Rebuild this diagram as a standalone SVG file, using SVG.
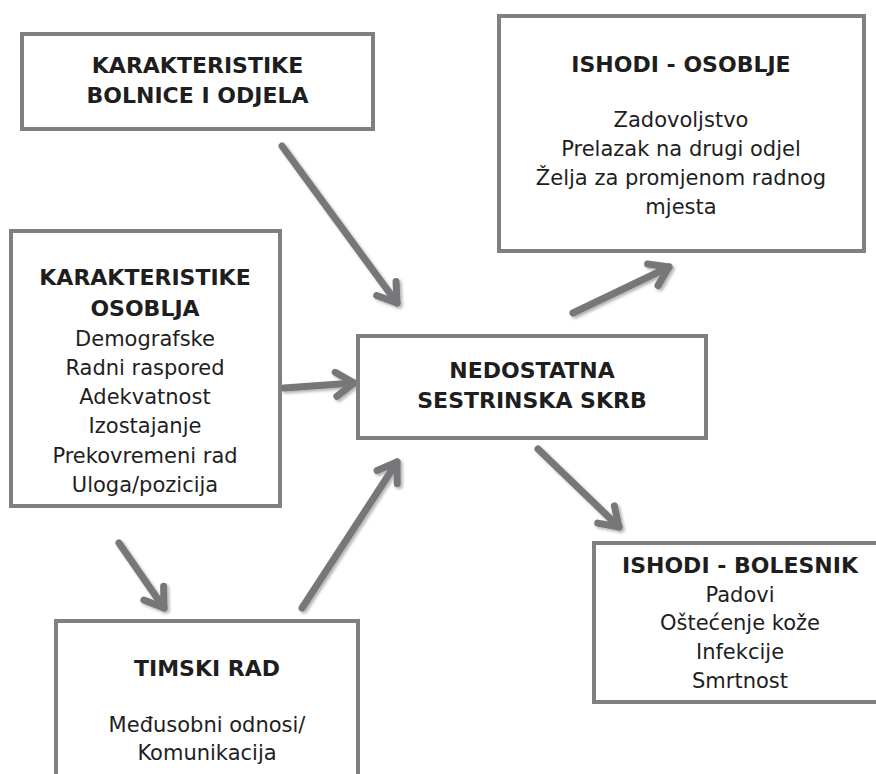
<svg xmlns="http://www.w3.org/2000/svg" width="876" height="774" viewBox="0 0 876 774">
<defs>
<style>
.box{fill:#fff;stroke:#808080;stroke-width:4}
.t{font-family:"DejaVu Sans",Verdana,sans-serif;fill:#1e1e1e;text-anchor:middle}
.b{font-weight:bold;font-size:22px}
.r{font-size:21px}
.arr{fill:none;stroke:#77777a;stroke-width:7;stroke-linecap:round;stroke-linejoin:round}
</style>
<filter id="sh" x="-20%" y="-20%" width="140%" height="140%">
<feDropShadow dx="2" dy="2" stdDeviation="1.5" flood-color="#000" flood-opacity="0.3"/>
</filter>
<marker id="ah" markerUnits="userSpaceOnUse" viewBox="-30 -20 40 40" refX="0" refY="0" markerWidth="40" markerHeight="40" orient="auto" overflow="visible">
<path d="M-18,-12 L0,0 L-18,12" fill="none" stroke="#77777a" stroke-width="7" stroke-linecap="round" stroke-linejoin="round"/>
</marker>
</defs>
<rect width="876" height="774" fill="#fff"/>
<g id="connectors" filter="url(#sh)">
<line class="arr" x1="282" y1="146" x2="397" y2="303" marker-end="url(#ah)"/>
<line class="arr" x1="284" y1="388" x2="354" y2="383" marker-end="url(#ah)"/>
<line class="arr" x1="302" y1="608" x2="397" y2="462" marker-end="url(#ah)"/>
<line class="arr" x1="119" y1="543" x2="164" y2="608" marker-end="url(#ah)"/>
<line class="arr" x1="538" y1="449" x2="619" y2="527" marker-end="url(#ah)"/>
<line class="arr" x1="573" y1="313" x2="669" y2="267" marker-end="url(#ah)"/>
</g>
<g id="bolnica">
<rect class="box" x="22" y="34" width="351" height="95"/>
<text class="t b" x="197.5" y="73">KARAKTERISTIKE</text>
<text class="t b" x="197.5" y="103">BOLNICE I ODJELA</text>
</g>
<g id="ishodi-osoblje">
<rect class="box" x="499" y="16" width="365" height="235"/>
<text class="t b" x="681" y="72">ISHODI - OSOBLJE</text>
<text class="t r" x="681" y="127">Zadovoljstvo</text>
<text class="t r" x="681" y="156">Prelazak na drugi odjel</text>
<text class="t r" x="681" y="185">Želja za promjenom radnog</text>
<text class="t r" x="681" y="214">mjesta</text>
</g>
<g id="osoblje">
<rect class="box" x="11" y="231" width="269" height="275"/>
<text class="t b" x="145" y="285">KARAKTERISTIKE</text>
<text class="t b" x="145" y="316">OSOBLJA</text>
<text class="t r" x="145" y="346">Demografske</text>
<text class="t r" x="145" y="375">Radni raspored</text>
<text class="t r" x="145" y="404">Adekvatnost</text>
<text class="t r" x="145" y="433">Izostajanje</text>
<text class="t r" x="145" y="463">Prekovremeni rad</text>
<text class="t r" x="145" y="492">Uloga/pozicija</text>
</g>
<g id="skrb">
<rect class="box" x="358" y="336" width="348" height="102"/>
<text class="t b" x="532" y="378">NEDOSTATNA</text>
<text class="t b" x="532" y="408">SESTRINSKA SKRB</text>
</g>
<g id="ishodi-bolesnik">
<rect class="box" x="594" y="543" width="330" height="159"/>
<text class="t b" x="740" y="573">ISHODI - BOLESNIK</text>
<text class="t r" x="740" y="602">Padovi</text>
<text class="t r" x="740" y="630">Oštećenje kože</text>
<text class="t r" x="740" y="659">Infekcije</text>
<text class="t r" x="740" y="688">Smrtnost</text>
</g>
<g id="timski">
<rect class="box" x="56" y="621" width="302" height="200"/>
<text class="t b" x="207" y="676">TIMSKI RAD</text>
<text class="t r" x="207" y="732">Međusobni odnosi/</text>
<text class="t r" x="207" y="760">Komunikacija</text>
</g>
</svg>
